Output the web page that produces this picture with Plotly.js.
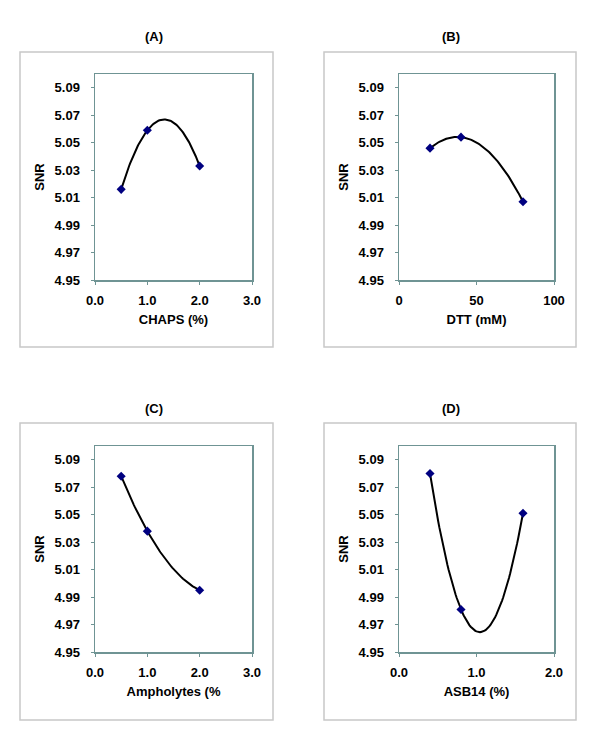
<!DOCTYPE html>
<html>
<head>
<meta charset="utf-8">
<script src="https://cdn.plot.ly/plotly-3.0.1.min.js"></script>
<style>html,body{margin:0;padding:0;background:#fff;}#chart{width:600px;height:734px;}</style>
</head>
<body>
<div id="chart"></div>
<script>
// Panel data
const chapsX = [0.5, 1.0, 2.0];
const chapsY = [5.016, 5.059, 5.033];
const dttX = [20, 40, 80];
const dttY = [5.046, 5.054, 5.007];
const ampholytesX = [0.5, 1.0, 2.0];
const ampholytesY = [5.078, 5.038, 4.995];
const asb14X = [0.4, 0.8, 1.6];
const asb14Y = [5.080, 4.981, 5.051];

const panelTitles = ['(A)', '(B)', '(C)', '(D)'];
const xTitles = ['CHAPS (%)', 'DTT (mM)', 'Ampholytes (%', 'ASB14 (%)'];
const yTitle = 'SNR';
const yTickVals = [4.95, 4.97, 4.99, 5.01, 5.03, 5.05, 5.07, 5.09];
const yTickText = ['4.95', '4.97', '4.99', '5.01', '5.03', '5.05', '5.07', '5.09'];
const xTicksA = [0, 1, 2, 3];
const xTickTextA = ['0.0', '1.0', '2.0', '3.0'];
const xTicksB = [0, 50, 100];
const xTickTextB = ['0', '50', '100'];
const xTicksD = [0, 1, 2];
const xTickTextD = ['0.0', '1.0', '2.0'];

const W = 600, H = 734;
const FONT = {family: 'Liberation Sans, Arial, sans-serif', size: 13, color: '#000', weight: 700};

// Order-2 polynomial trendline (least squares), like a spreadsheet trendline
function polyFit2(xs, ys) {
  let S = [0, 0, 0, 0, 0], T = [0, 0, 0];
  for (let i = 0; i < xs.length; i++) {
    let p = 1;
    for (let k = 0; k < 5; k++) { S[k] += p; if (k < 3) T[k] += p * ys[i]; p *= xs[i]; }
  }
  const A = [[S[0], S[1], S[2], T[0]], [S[1], S[2], S[3], T[1]], [S[2], S[3], S[4], T[2]]];
  for (let c = 0; c < 3; c++) {
    let piv = c;
    for (let r = c + 1; r < 3; r++) if (Math.abs(A[r][c]) > Math.abs(A[piv][c])) piv = r;
    [A[c], A[piv]] = [A[piv], A[c]];
    for (let r = 0; r < 3; r++) if (r !== c) {
      const f = A[r][c] / A[c][c];
      for (let k = c; k < 4; k++) A[r][k] -= f * A[c][k];
    }
  }
  return [A[0][3] / A[0][0], A[1][3] / A[1][1], A[2][3] / A[2][2]];
}
function trendline(xs, ys, xa, ya) {
  const c = polyFit2(xs, ys);
  const lo = Math.min(...xs), hi = Math.max(...xs), n = 80;
  const tx = [], ty = [];
  for (let i = 0; i <= n; i++) {
    const x = lo + (hi - lo) * i / n;
    tx.push(x); ty.push(c[0] + c[1] * x + c[2] * x * x);
  }
  return {x: tx, y: ty, xaxis: xa, yaxis: ya, type: 'scatter', mode: 'lines',
    line: {color: '#000', width: 2}, showlegend: false, hoverinfo: 'skip'};
}
function points(xs, ys, xa, ya) {
  return {x: xs, y: ys, xaxis: xa, yaxis: ya, type: 'scatter', mode: 'markers',
    marker: {symbol: 'diamond', size: 7, color: '#000080'}, showlegend: false, hoverinfo: 'skip'};
}

const series = [[chapsX, chapsY], [dttX, dttY], [ampholytesX, ampholytesY], [asb14X, asb14Y]];
const data = [];
series.forEach((s, i) => {
  const xa = i === 0 ? 'x' : 'x' + (i + 1), ya = i === 0 ? 'y' : 'y' + (i + 1);
  data.push(trendline(s[0], s[1], xa, ya));
  data.push(points(s[0], s[1], xa, ya));
});

// pixel boxes of plot areas and outer frames
const plots = [
  {x0: 95, x1: 252, y0: 74, y1: 280},
  {x0: 399, x1: 554, y0: 74, y1: 280},
  {x0: 95, x1: 252, y0: 446, y1: 652},
  {x0: 399, x1: 554, y0: 446, y1: 652}
];
const boxes = [
  {x0: 20, x1: 273, y0: 52, y1: 347},
  {x0: 324, x1: 576, y0: 52, y1: 347},
  {x0: 20, x1: 273, y0: 423, y1: 720},
  {x0: 324, x1: 576, y0: 423, y1: 720}
];
const titlePos = [{x: 154, y: 36}, {x: 451, y: 36}, {x: 154, y: 409}, {x: 451, y: 409}];

function xaxis(i, ticks, text, range) {
  const p = plots[i];
  return {
    domain: [p.x0 / W, p.x1 / W], anchor: i === 0 ? 'y' : 'y' + (i + 1),
    range: range, tickmode: 'array', tickvals: ticks, ticktext: text,
    showgrid: false, zeroline: false, showline: true, mirror: true,
    linecolor: '#6f9494', linewidth: 1.5, ticks: 'outside', ticklen: 3, tickcolor: '#6f9494',
    tickfont: FONT, ticklabelstandoff: 5,
    title: {text: xTitles[i], font: FONT, standoff: 8},
    fixedrange: true
  };
}
function yaxis(i) {
  const p = plots[i];
  return {
    domain: [1 - p.y1 / H, 1 - p.y0 / H], anchor: i === 0 ? 'x' : 'x' + (i + 1),
    range: [4.95, 5.10], tickmode: 'array', tickvals: yTickVals, ticktext: yTickText,
    showgrid: false, zeroline: false, showline: true, mirror: true,
    linecolor: '#6f9494', linewidth: 1.5, ticks: 'outside', ticklen: 3, tickcolor: '#6f9494',
    tickfont: FONT, ticklabelstandoff: 8,
    title: {text: yTitle, font: FONT, standoff: 7},
    fixedrange: true
  };
}

const layout = {
  width: W, height: H, margin: {l: 0, r: 0, t: 0, b: 0},
  paper_bgcolor: '#fff', plot_bgcolor: '#fff', showlegend: false,
  xaxis: xaxis(0, xTicksA, xTickTextA, [0, 3]),
  xaxis2: xaxis(1, xTicksB, xTickTextB, [0, 100]),
  xaxis3: xaxis(2, xTicksA, xTickTextA, [0, 3]),
  xaxis4: xaxis(3, xTicksD, xTickTextD, [0, 2]),
  yaxis: yaxis(0), yaxis2: yaxis(1), yaxis3: yaxis(2), yaxis4: yaxis(3),
  shapes: boxes.map(b => ({
    type: 'rect', xref: 'paper', yref: 'paper', layer: 'below',
    x0: b.x0 / W, x1: b.x1 / W, y0: 1 - b.y1 / H, y1: 1 - b.y0 / H,
    line: {color: '#c8c8c8', width: 1.5}
  })),
  annotations: panelTitles.map((t, i) => ({
    text: t, xref: 'paper', yref: 'paper', x: titlePos[i].x / W, y: 1 - titlePos[i].y / H,
    xanchor: 'center', yanchor: 'middle', showarrow: false, font: FONT
  }))
};

Plotly.newPlot('chart', data, layout, {displayModeBar: false, staticPlot: true});
</script>
</body>
</html>
